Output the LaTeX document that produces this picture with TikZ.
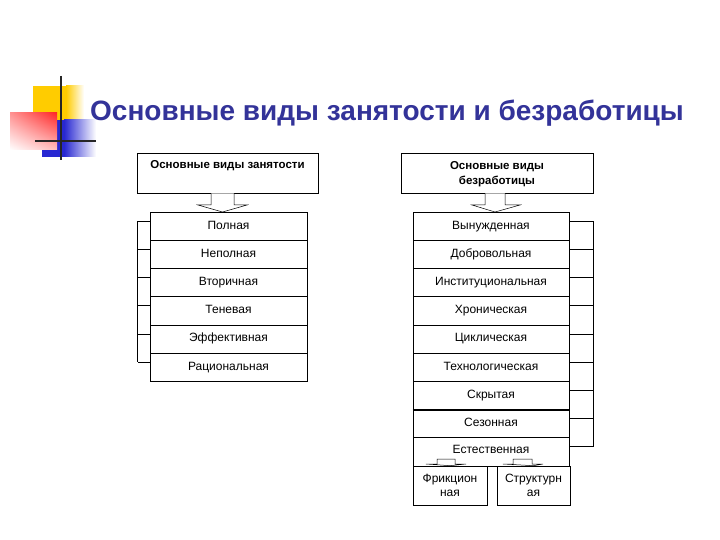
\documentclass[tikz,border=0pt]{standalone}
\usepackage{fontspec}
\setmainfont{Liberation Sans}
\usetikzlibrary{shadings}
\definecolor{titleblue}{RGB}{51,51,153}
\definecolor{decoyellow}{RGB}{255,204,0}
\definecolor{decored}{RGB}{255,40,40}
\definecolor{decoblue}{RGB}{40,40,210}
\begin{document}
\begin{tikzpicture}[x=1pt,y=-1pt,
  box/.style={draw, line width=0.6pt, fill=white, inner sep=0pt},
  cell/.style={box, minimum height=28.2pt, text height=8.6pt, text depth=2.6pt, font=\fontsize{12}{14}\selectfont},
  lcell/.style={cell, minimum width=157pt},
  rcell/.style={cell, minimum width=156pt},
  hdrbox/.style={box, minimum height=40pt},
  hdrtext/.style={font=\bfseries\fontsize{11.5}{15}\selectfont, align=center, inner sep=0pt},
  childbox/.style={box, minimum height=39pt, align=center, font=\fontsize{12}{14}\selectfont},
  barrow/.style={draw, line width=0.5pt, fill=white},
  bracket/.style={line width=0.6pt}]
\useasboundingbox (0,0) rectangle (720,540);
\fill[white] (0,0) rectangle (720,540);
% decoration
\fill[decoyellow] (33,86) rectangle (66,128);
\shade[left color=decoyellow, right color=white] (66,86) rectangle (84,128);
\fill[decoblue] (42,120) rectangle (64,157);
\shade[left color=decoblue, right color=white] (64,120) rectangle (96,157);
\shade[upper left=decored!50, upper right=decored, lower left=white, lower right=decored!30] (10,113) rectangle (57,150);
\draw[line width=2pt, black!85] (61,76) -- (61,160);
\draw[line width=2pt, black!85] (35,141) -- (96,141);
% title
\node[anchor=base west, font=\bfseries\fontsize{28}{30}\selectfont, text=titleblue, inner sep=0pt] (title) at (90,121) {Основные виды занятости и безработицы};
% headers
\node[hdrbox, minimum width=181pt] (lh) at (227.5,173) {};
\node[hdrtext] (lht) at (227.5,166) {Основные виды занятости};
\node[hdrbox, minimum width=192pt] (rh) at (497,173) {};
\node[hdrtext] (rht) at (497,174.5) {Основные виды\\безработицы};
% left column
\node[lcell] (l1) at (228.5,226.1) {Полная};
\node[lcell] (l2) at (228.5,254.3) {Неполная};
\node[lcell] (l3) at (228.5,282.5) {Вторичная};
\node[lcell] (l4) at (228.5,310.7) {Теневая};
\node[lcell] (l5) at (228.5,338.9) {Эффективная};
\node[lcell] (l6) at (228.5,367.1) {Рациональная};
% right column
\node[rcell] (r1) at (491,226.1) {Вынужденная};
\node[rcell] (r2) at (491,254.3) {Добровольная};
\node[rcell] (r3) at (491,282.5) {Институциональная};
\node[rcell] (r4) at (491,310.7) {Хроническая};
\node[rcell] (r5) at (491,338.9) {Циклическая};
\node[rcell] (r6) at (491,367.1) {Технологическая};
\node[rcell] (r7) at (491,395.3) {Скрытая};
\node[rcell] (r8) at (491,423.5) {Сезонная};
\node[rcell] (r9) at (491,451.7) {};
\node[font=\fontsize{12}{14}\selectfont, inner sep=0pt, text height=8.6pt, text depth=2.6pt] (r9t) at (491,450) {Естественная};
\draw[line width=1.6pt] (r7.south west) -- (r7.south east);
% children
\node[childbox, minimum width=74pt] (c1) at (450,485.5) {Фрикцион\\ная};
\node[childbox, minimum width=73pt] (c2) at (533.5,485.5) {Структурн\\ая};
% block arrows
\draw[barrow] (lh.south -| 211,0) -- (211,205) -- (198,205) -- (222.5,212) -- (247,205) -- (234,205) -- (lh.south -| 234,0);
\draw[barrow] (rh.south -| 485,0) -- (485,205) -- (472,205) -- (495,212) -- (520,205) -- (505,205) -- (rh.south -| 505,0);
\draw[barrow] (437,465) -- (437,459) -- (455,459) -- (455,464) -- (466,464) -- (c1.north) -- (426,464) -- (437,464);
\draw[barrow] (513,465) -- (513,459) -- (532,459) -- (532,464) -- (543,464) -- (c2.north) -- (503,464) -- (513,464);
% left bracket
\foreach \n in {l1,l2,l3,l4,l5,l6}
  \draw[bracket] ([yshift=5pt]\n.west) -- ++(-12,0);
\draw[bracket] ([yshift=5pt,xshift=-12pt]l1.west) -- ([yshift=5pt,xshift=-12pt]l6.west);
% right bracket
\foreach \n in {r1,r2,r3,r4,r5,r6,r7,r8,r9}
  \draw[bracket] ([yshift=5pt]\n.east) -- ++(24,0);
\draw[bracket] ([yshift=5pt,xshift=24pt]r1.east) -- ([yshift=5pt,xshift=24pt]r9.east);
\end{tikzpicture}
\end{document}
